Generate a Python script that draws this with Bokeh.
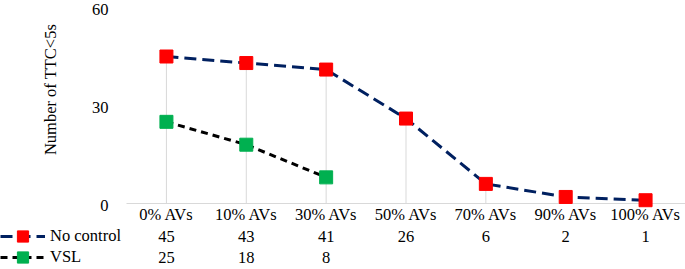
import math
from bokeh.plotting import figure
from bokeh.models import Range1d, Label, Legend, LegendItem
from bokeh.embed import file_html
from bokeh.resources import INLINE

categories = ["0% AVs", "10% AVs", "30% AVs", "50% AVs", "70% AVs", "90% AVs", "100% AVs"]
no_control = [45, 43, 41, 26, 6, 2, 1]
vsl = [25, 18, 8]
y_ticks = [0, 30, 60]
series_names = ["No control", "VSL"]
y_title = "Number of TTC<5s"

FONT = "Liberation Serif"
FS = "16.5px"
W, H = 685, 269
LEFT = 126          # plot area left edge (px)
Y0, Y60 = 203, 7    # pixel rows of value 0 and 60
CAT, ROW1, ROW2 = 214, 236, 257
n = len(categories)
xs = [i + 0.5 for i in range(n)]

ppu_x = (W - LEFT) / n
ppu_y = (Y0 - Y60) / 60.0
x_range = Range1d(-LEFT / ppu_x, n)
y_range = Range1d(-(H - Y0) / ppu_y, 60 + Y60 / ppu_y)

p = figure(width=W, height=H, output_backend="svg", toolbar_location=None,
           x_range=x_range, y_range=y_range,
           min_border_left=0, min_border_right=0, min_border_top=0, min_border_bottom=0)
p.xaxis.visible = False
p.yaxis.visible = False
p.outline_line_color = None
p.xgrid.visible = False
p.ygrid.visible = False
p.background_fill_color = "white"
p.border_fill_color = "white"

# horizontal axis line
p.segment([0], [0], [n], [0], line_color="#d9d9d9", line_width=1)
# drop lines
p.segment(xs, [0] * n, xs, no_control, line_color="#d9d9d9", line_width=1)

l1 = p.line(xs, no_control, line_color="#002060", line_width=3, line_dash="12 6")
s1 = p.scatter(xs, no_control, marker="square", size=13, fill_color="#ff0000", line_color="#ff0000")
l2 = p.line(xs[:len(vsl)], vsl, line_color="black", line_width=3, line_dash="7 5")
s2 = p.scatter(xs[:len(vsl)], vsl, marker="square", size=13, fill_color="#00b050", line_color="#00b050")

def lab(**kw):
    base = dict(text_font=FONT, text_font_size=FS, text_color="black",
                text_baseline="middle")
    base.update(kw)
    p.add_layout(Label(**base))

# y tick labels
for t in y_ticks:
    lab(x=108, x_units="screen", y=t, y_offset=-1.5, text=str(t), text_align="right")

# y title
lab(x=50, y=H - 89, x_units="screen", y_units="screen", text=y_title,
    angle=math.pi / 2, text_align="center")

# category labels
for x, c in zip(xs, categories):
    lab(x=x, y=H - CAT, y_units="screen", text=c, text_align="center")

# data table rows
for row_y, series in ((H - ROW1, no_control), (H - ROW2, vsl)):
    for x, v in zip(xs, series):
        lab(x=x, y=row_y, y_units="screen", text=str(v), text_align="center")

# one legend per table row, so each sits on its row
GH = 28
for name, rends, row in ((series_names[0], [l1, s1], ROW1), (series_names[1], [l2, s2], ROW2)):
    lg = Legend(items=[LegendItem(label=name, renderers=rends)],
                location=(0, H - (row + GH // 2)), glyph_width=45, glyph_height=GH,
                label_height=GH, spacing=0, padding=0, margin=0,
                label_standoff=5, border_line_color=None,
                background_fill_alpha=0, label_text_font=FONT, label_text_font_size=FS,
                label_text_color="black")
    p.add_layout(lg)

open("out.html", "w").write(file_html(p, INLINE))
